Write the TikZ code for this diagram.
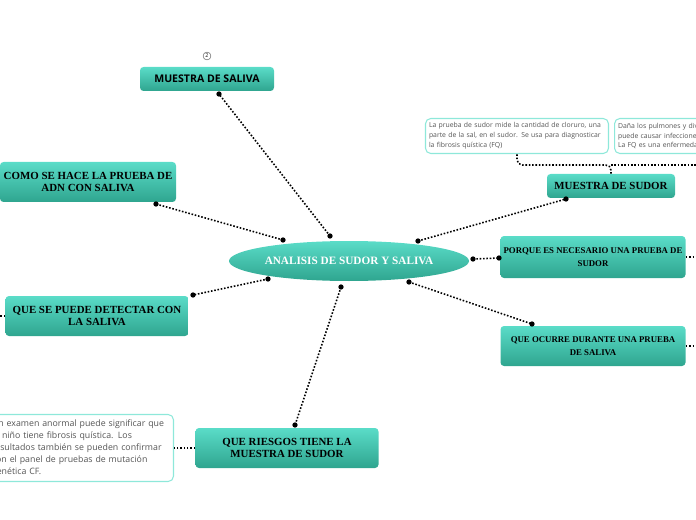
\documentclass[tikz,border=0pt]{standalone}
\usepackage{fontspec}
\setmainfont{Liberation Serif}
\newfontfamily\opensans{Open Sans}
\usetikzlibrary{positioning,shapes.geometric}
\definecolor{tealtop}{HTML}{5ADCC8}
\definecolor{tealbot}{HTML}{2FA58F}
\definecolor{tealline}{HTML}{8EE8DA}
\definecolor{notegray}{HTML}{555555}
\tikzset{
	topic/.style={rounded corners=2pt, top color=tealtop, bottom color=tealbot, draw=none,
		align=center, font=\bfseries\fontsize{6.2}{7.2}\selectfont, inner sep=0pt},
	note/.style={rounded corners=3pt, draw=tealline, line width=0.6pt, fill=white,
		align=left, text=notegray, font=\opensans\fontsize{3.9}{5.6}\selectfont, inner sep=2pt},
	link/.style={densely dotted, line width=0.9pt},
	tip/.style={circle, fill=black, inner sep=0pt, minimum size=3pt}
}
\begin{document}
\begin{tikzpicture}[x=0.02cm, y=-0.02cm]
	\useasboundingbox (0,0) rectangle (696,520);
	\clip (0,0) rectangle (696,520);

	\node[ellipse, inner sep=0pt, top color=tealtop, bottom color=tealbot, minimum width=240*0.02cm, minimum height=40*0.02cm,
		font=\bfseries\fontsize{6.4}{7.4}\selectfont, text=white] (core) at (349,261) {ANALISIS DE SUDOR Y SALIVA};

	\node[topic, minimum width=134*0.02cm, minimum height=24*0.02cm, font=\opensans\bfseries\fontsize{6}{7}\selectfont] (saliva) at (207,79) {MUESTRA DE SALIVA};
	\node[circle, draw=black!60, line width=0.3pt, inner sep=0.6pt, font=\opensans\fontsize{3}{3}\selectfont] (num) at (207,56) {2};
	\node[topic, minimum width=176*0.02cm, minimum height=40*0.02cm] (como) at (88,182) {COMO SE HACE LA PRUEBA DE\\ADN CON SALIVA};
	\node[topic, minimum width=183*0.02cm, minimum height=40*0.02cm] (detect) at (97,316) {QUE SE PUEDE DETECTAR CON\\LA SALIVA};
	\node[topic, minimum width=183*0.02cm, minimum height=40*0.02cm] (riesgo) at (287,448) {QUE RIESGOS TIENE LA\\MUESTRA DE SUDOR};
	\node[topic, minimum width=128*0.02cm, minimum height=24*0.02cm] (sudor) at (611,186) {MUESTRA DE SUDOR};
	\node[topic, minimum width=185*0.02cm, minimum height=42*0.02cm, font=\bfseries\fontsize{5}{7.4}\selectfont] (porque) at (593,257) {PORQUE ES NECESARIO UNA PRUEBA DE\\SUDOR};
	\node[topic, minimum width=185*0.02cm, minimum height=40*0.02cm, font=\bfseries\fontsize{5}{7.4}\selectfont] (ocurre) at (593,346) {QUE OCURRE DURANTE UNA PRUEBA\\DE SALIVA};

	\node[note, text width=176*0.02cm, minimum height=35*0.02cm] (nota1) at (517,136) {La prueba de sudor mide la cantidad de cloruro, una\\parte de la sal, en el sudor. Se usa para diagnosticar\\la fibrosis quística (FQ)};
	\node[note, text width=176*0.02cm, minimum height=35*0.02cm, anchor=west] (nota2) at (614,136) {Daña los pulmones y diversos órganos,\\puede causar infecciones frecuentes.\\La FQ es una enfermedad hereditaria.};
	\node[note, text width=178*0.02cm, minimum height=67*0.02cm, font=\opensans\fontsize{5}{6.8}\selectfont, anchor=east] (nota3) at (174,448) {Un examen anormal puede significar que\\el niño tiene fibrosis quística. Los\\resultados también se pueden confirmar\\con el panel de pruebas de mutación\\genética CF.};

	\coordinate (s1) at (330,236); \coordinate (s2) at (283,240); \coordinate (s3) at (268,279);
	\coordinate (s4) at (341,287); \coordinate (s5) at (418,241); \coordinate (s6) at (473,259);
	\coordinate (s7) at (409,282);
	\coordinate (e1) at (219,94); \coordinate (e2) at (156,204); \coordinate (e3) at (193,295);
	\coordinate (e4) at (295,425); \coordinate (e5) at (566,199); \coordinate (e6) at (499,258);
	\coordinate (e7) at (532,324);

	\foreach \a/\b in {s1/e1, s2/e2, s3/e3, s4/e4, s5/e5, s6/e6, s7/e7} {
		\draw[link] (\a) -- (\b);
		\node[tip] at (\a) {};
		\node[tip] at (\b) {};
	}

	\draw[link, rounded corners=3pt] (sudor.north) -- (611,165) -- (517,165) -- (nota1.south);
	\draw[link, rounded corners=3pt] (611,165) -- (700,165);
	\draw[link] (riesgo.west) -- (nota3.east);
	\draw[link] (porque.east) -- ++(12,0);
	\draw[link] (ocurre.east) -- ++(12,0);
	\draw[link] (detect.west) -- ++(-8,0);
\end{tikzpicture}
\end{document}
